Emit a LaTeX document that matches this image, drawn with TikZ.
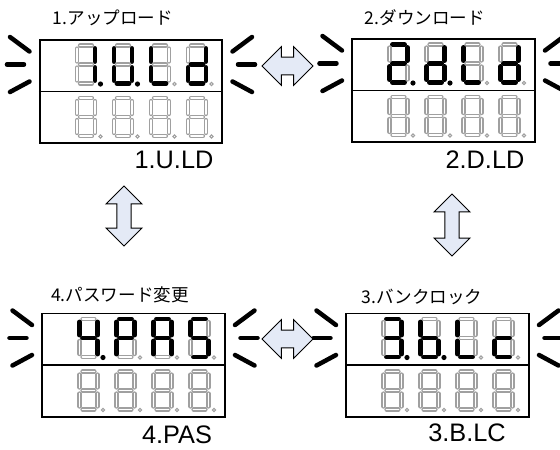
\documentclass[tikz,border=0pt]{standalone}
\usepackage{fontspec}
\setmainfont{Noto Sans CJK JP}
\newfontfamily\codefont{Liberation Sans}
\usepackage{xstring}
\usetikzlibrary{calc, shapes.arrows}
\definecolor{arrowfill}{RGB}{228,234,246}
\definecolor{segoffc}{RGB}{160,160,160}
\tikzset{
  lcd/.style={rectangle, draw=black, line width=1.4pt,
              minimum width=4.55cm, minimum height=2.575cm, inner sep=0pt},
  segon/.style={draw=black, line width=3.5pt, line cap=round},
  segoff/.style={draw=segoffc, line width=0.8pt, double=white,
                 double distance=1.4pt, line cap=round},
  glow/.style={draw=black, line width=3.2pt, line cap=round},
  dblarrow/.style={double arrow, draw=black, line width=0.7pt, fill=arrowfill,
                   double arrow tip angle=90, double arrow head extend=0.26cm,
                   inner xsep=0pt, inner ysep=0.21cm, minimum height=#1},
  jlbl/.style={font=\fontsize{12.5}{13}\selectfont, inner sep=0pt},
  code/.style={font=\codefont\fontsize{18}{19}\selectfont, inner sep=0pt},
}
%% one 7-segment digit: #1 origin, #2 lit segments, #3 lit point (1/0)
\newcommand\lcddigit[3]{%
  \begin{scope}[shift={(#1)}]
    \foreach \s/\xa/\ya/\xb/\yb in {a/5/2/17/2, b/20/5/20/18, c/20/24/20/37,
        d/5/40/17/40, e/2/24/2/37, f/2/5/2/18, g/5/21/17/21}{
      \IfSubStr{#2}{\s}{\draw[segon] (\xa,\ya) -- (\xb,\yb);}
                       {\draw[segoff] (\xa,\ya) -- (\xb,\yb);}
    }
    \ifnum#3=1 \fill (25.5,40.5) circle (2.6);
    \else \draw[segoffc, line width=0.7pt] (25.5,40.5) circle (1.6);\fi
  \end{scope}}

\begin{document}
\begin{tikzpicture}[x=0.025cm, y=-0.025cm]
  \clip (0,0) rectangle (560,449);
  %% the four displays
  \node[lcd] (uld) at (131,91.5) {};
  \node[lcd] (dld) at (443.5,90.5) {};
  \node[lcd] (blc) at (437.5,365) {};
  \node[lcd] (pas) at (133.5,365) {};
  \foreach \n in {uld,dld,blc,pas}{
    \draw[line width=1.4pt] (\n.west) -- (\n.east);
    %% blinking marks
    \draw[glow] ($(\n.north west)+(-9.5,12.5)$) -- ($(\n.north west)+(-29,-2)$);
    \draw[glow] ($(\n.north west)+(-15,25.5)$) -- ($(\n.north west)+(-32,25.5)$);
    \draw[glow] ($(\n.north west)+(-9.5,42.5)$) -- ($(\n.north west)+(-29,53)$);
    \draw[glow] ($(\n.north east)+(9.5,12.5)$) -- ($(\n.north east)+(29,-2)$);
    \draw[glow] ($(\n.north east)+(15,25.5)$) -- ($(\n.north east)+(32,25.5)$);
    \draw[glow] ($(\n.north east)+(9.5,42.5)$) -- ($(\n.north east)+(29,53)$);
    %% lower row, all off
    \foreach \i in {0,...,3}
      \lcddigit{$(\n.west)+(36+37*\i,4.5)$}{x}{0};
  }
  %% upper rows
  \foreach \segs/\pnt [count=\i from 0] in {bc/1, bcdef/1, def/0, bcdeg/0}
    \lcddigit{$(uld.north west)+(36+37*\i,4.5)$}{\segs}{\pnt};
  \foreach \segs/\pnt [count=\i from 0] in {abdeg/1, bcdeg/1, def/0, bcdeg/0}
    \lcddigit{$(dld.north west)+(36+37*\i,4.5)$}{\segs}{\pnt};
  \foreach \segs/\pnt [count=\i from 0] in {abcdg/1, cdefg/1, def/0, deg/0}
    \lcddigit{$(blc.north west)+(36+37*\i,4.5)$}{\segs}{\pnt};
  \foreach \segs/\pnt [count=\i from 0] in {bcfg/1, abefg/0, abcefg/0, acdfg/0}
    \lcddigit{$(pas.north west)+(36+37*\i,4.5)$}{\segs}{\pnt};
  %% titles and codes
  \node[jlbl] (tuld) at (113,18) {1.アップロード};
  \node[jlbl] (tdld) at (425,18) {2.ダウンロード};
  \node[jlbl] (tblc) at (422,297) {3.バンクロック};
  \node[jlbl] (tpas) at (120,295) {4.パスワード変更};
  \node[code] (culd) at (174,160) {1.U.LD};
  \node[code] (cdld) at (485,160) {2.D.LD};
  \node[code] (cblc) at (467,433) {3.B.LC};
  \node[code] (cpas) at (177,435) {4.PAS};
  %% transitions
  \node[dblarrow=1.275cm] (a12) at (287.5,66) {};
  \node[dblarrow=1.275cm] (a34) at (287.5,339) {};
  \node[dblarrow=1.5cm, rotate=90, inner ysep=0.165cm,
        double arrow head extend=0.27cm] (a14) at (124,216) {};
  \node[dblarrow=1.55cm, rotate=90, inner ysep=0.165cm,
        double arrow head extend=0.27cm] (a23) at (452,225) {};
\end{tikzpicture}
\end{document}
